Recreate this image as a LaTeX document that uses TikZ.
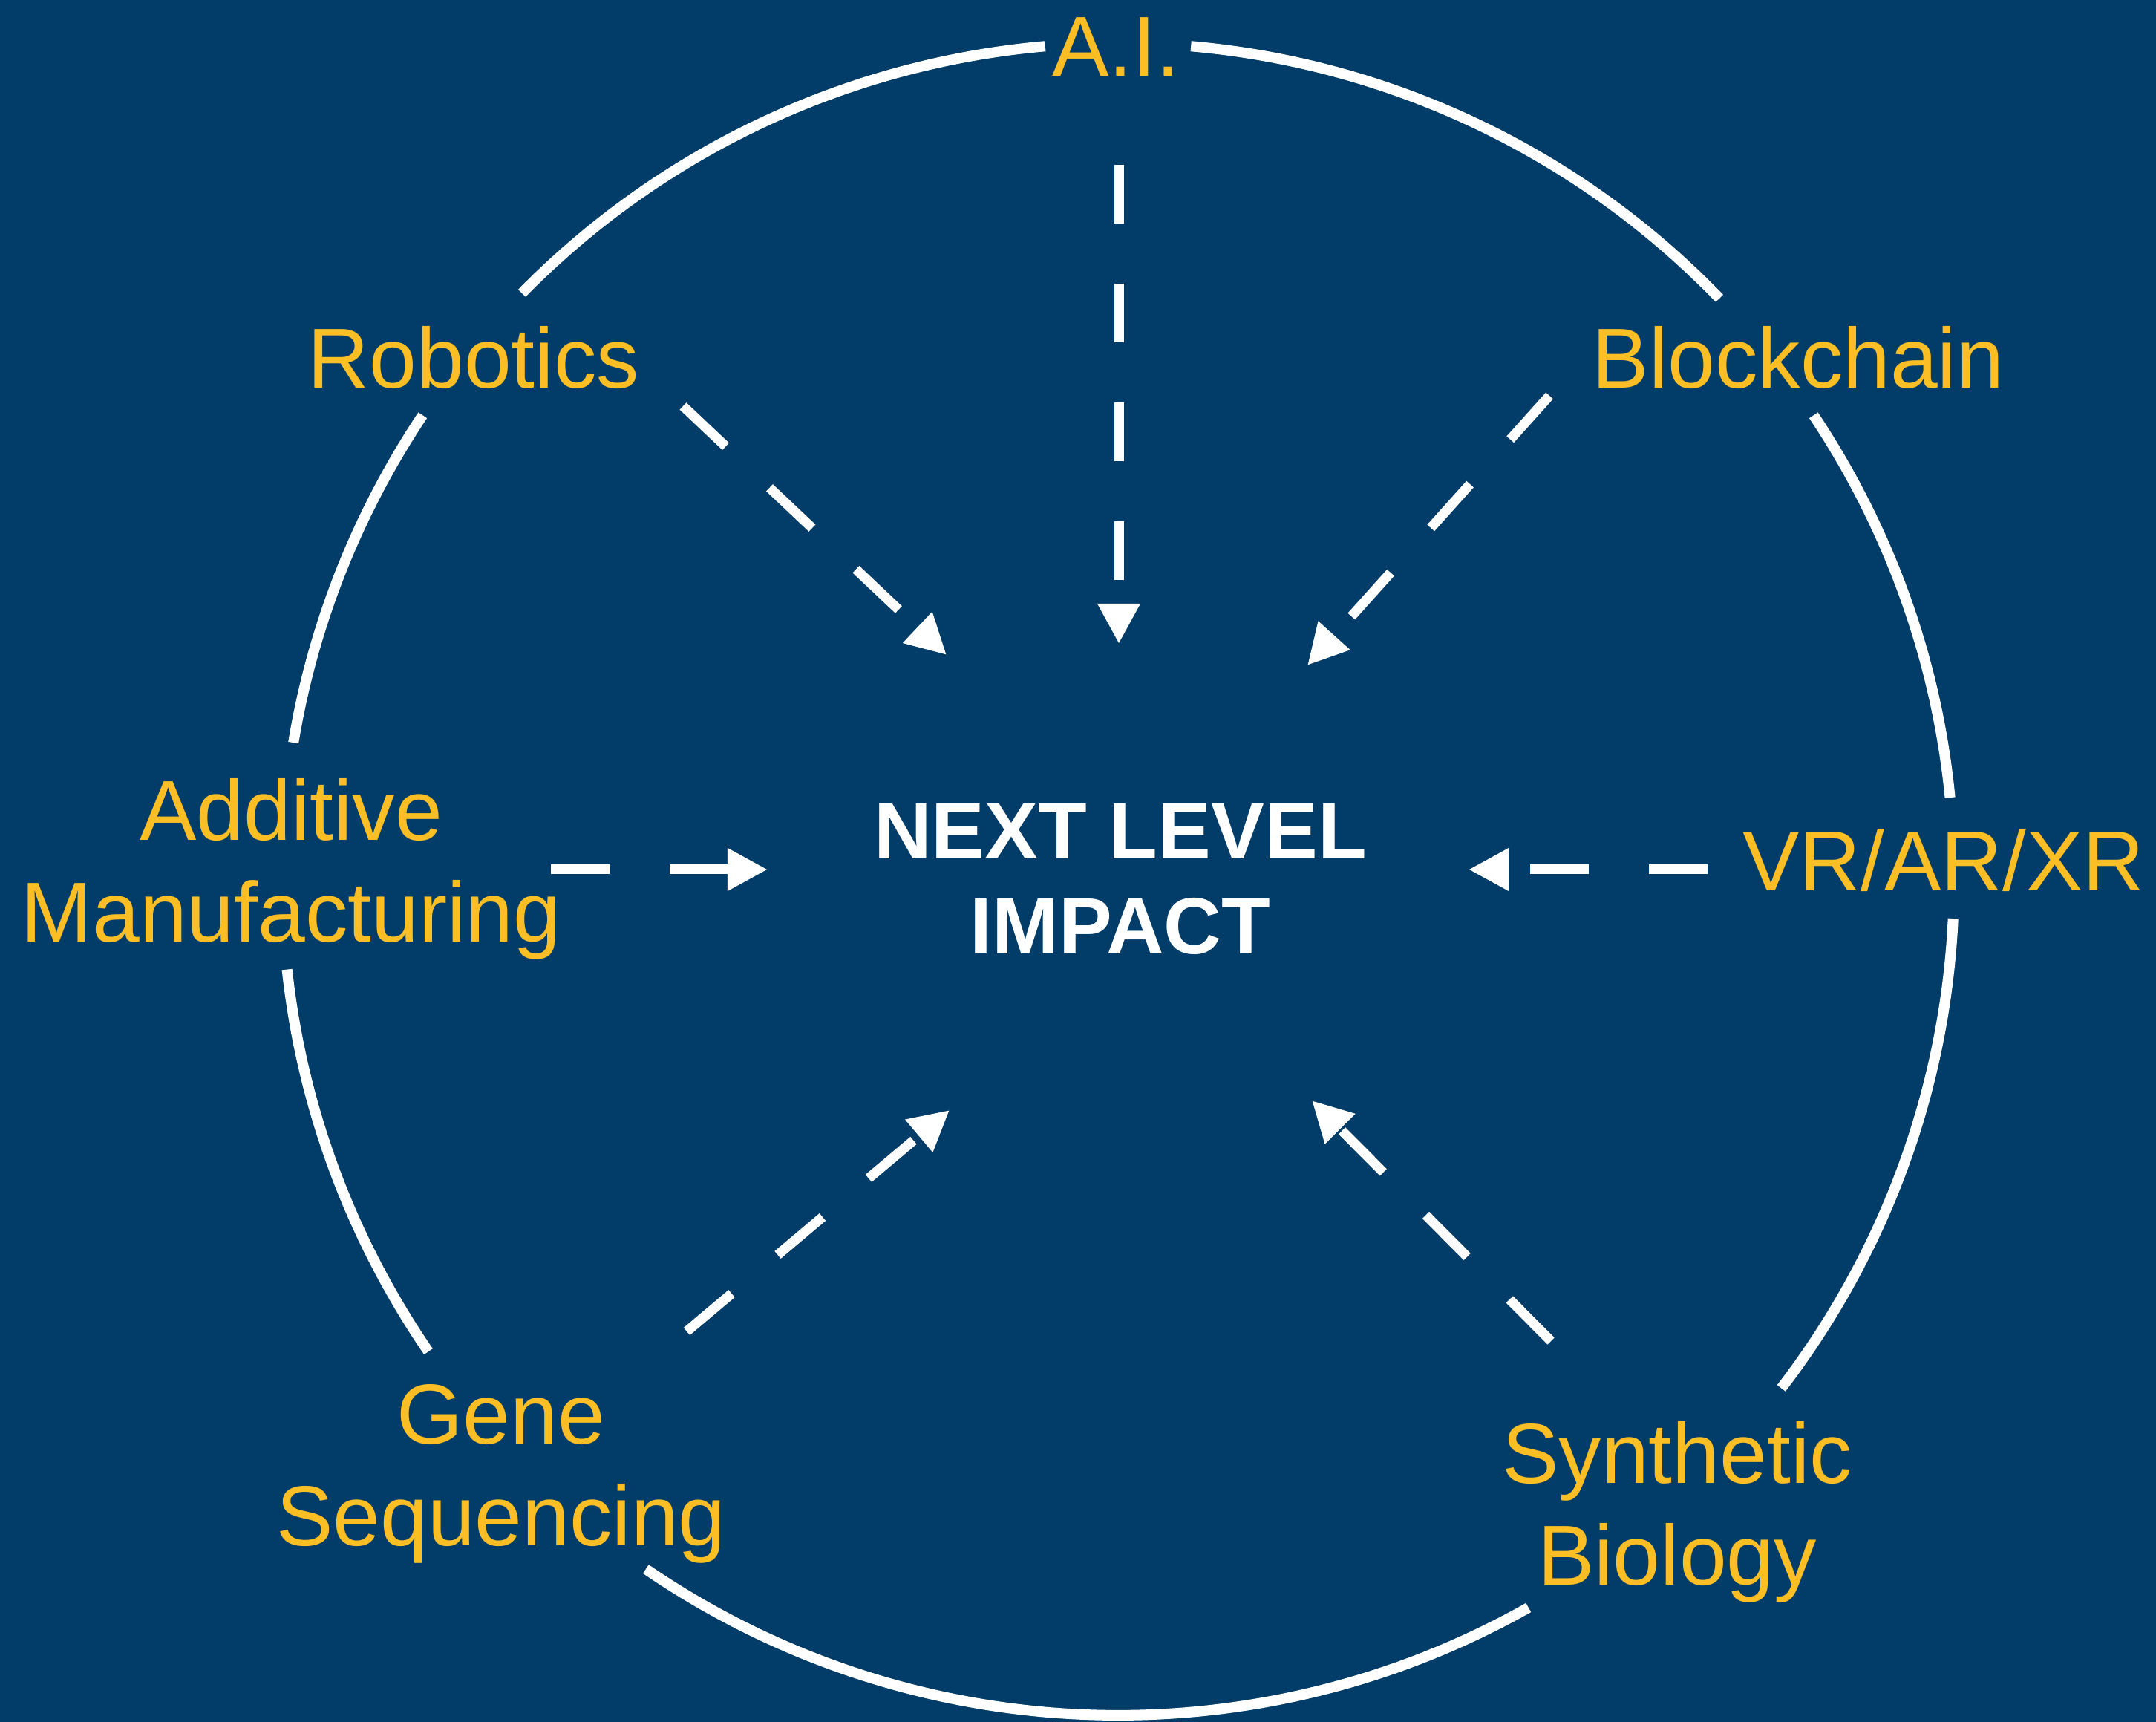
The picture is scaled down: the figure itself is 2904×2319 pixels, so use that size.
\documentclass[tikz,border=0pt]{standalone}
\usepackage{fontspec}
\setmainfont{Liberation Sans}
\usetikzlibrary{arrows.meta}
\definecolor{navy}{RGB}{1,61,104}
\definecolor{gold}{RGB}{251,190,36}
\tikzset{
  topic/.style={text=gold, font=\fontsize{32.6}{39.2}\selectfont,
    align=center, anchor=base, inner sep=0pt},
  hubtext/.style={text=white, font=\bfseries\fontsize{30.6}{36.4}\selectfont,
    align=center, anchor=base, inner sep=0pt},
  ring/.style={draw=white, line width=4pt},
  feed/.style={draw=white, line width=3.7pt, dash pattern=on 0.79cm off 0.81cm,
    -{Triangle[length=0.54cm,width=0.54cm]}}
}

\begin{document}
\begin{tikzpicture}[x=0.01cm, y=0.01cm]
  \fill[navy] (0,0) rectangle (2904,2319);
  \useasboundingbox (0,0) rectangle (2904,2319);

  \coordinate (o) at (1506,1135);
  \foreach \a/\b in {5.6/33.7, 44.0/85.0, 95.0/135.5, 146.3/170.6,
                     186.2/214.4, 235.6/299.4, 322.5/357.3}
    \draw[ring] (o) ++(\a:1126) arc[start angle=\a, end angle=\b, radius=1126];

  \node[hubtext] (hub) at (1509,1034) {NEXT LEVEL\\IMPACT};
  \node[topic] (ai) at (1503,2216) {A.I.};
  \node[topic] (robotics) at (638,1796) {Robotics};
  \node[topic] (blockchain) at (2422,1796) {Blockchain};
  \node[topic] (additive) at (392,1050) {Additive\\Manufacturing};
  \node[topic] (vr) at (2618,1119) {VR/AR/XR};
  \node[topic] (gene) at (675,237) {Gene\\Sequencing};
  \node[topic] (synbio) at (2259,184) {Synthetic\\Biology};

  \coordinate (ai-out) at (1507,2097);
  \coordinate (ai-in) at (1507,1452);
  \coordinate (robotics-out) at (920,1772);
  \coordinate (robotics-in) at (1275,1437);
  \coordinate (blockchain-out) at (2087,1786);
  \coordinate (blockchain-in) at (1761,1423);
  \coordinate (additive-out) at (742,1148);
  \coordinate (additive-in) at (1034,1148);
  \coordinate (vr-out) at (2300,1148);
  \coordinate (vr-in) at (1978,1148);
  \coordinate (gene-out) at (925,526);
  \coordinate (gene-in) at (1279,824);
  \coordinate (synbio-out) at (2089,513);
  \coordinate (synbio-in) at (1767,837);

  \foreach \n in {ai, robotics, blockchain, additive, vr, gene, synbio}
    \draw[feed] (\n-out) -- (\n-in);
\end{tikzpicture}
\end{document}
